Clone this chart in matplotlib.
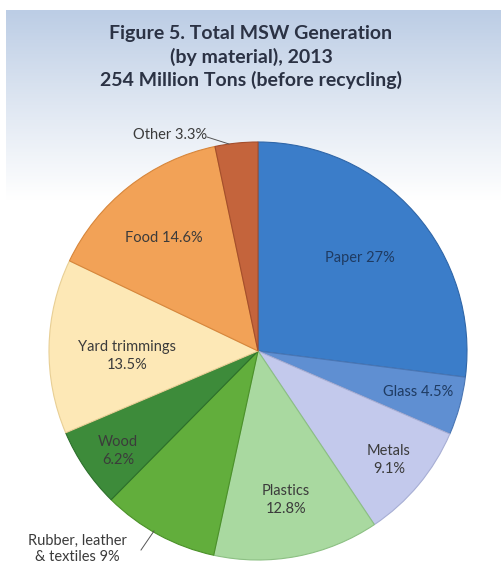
import numpy as np
import matplotlib
matplotlib.use("Agg")
import matplotlib.pyplot as plt
from matplotlib.colors import LinearSegmentedColormap

# ---- data ----
materials = ["Paper", "Glass", "Metals", "Plastics", "Rubber, leather\n& textiles", "Wood",
             "Yard trimmings", "Food", "Other"]
shares = [27.0, 4.5, 9.1, 12.8, 9.0, 6.2, 13.5, 14.6, 3.3]
label_texts = ["Paper 27%", "Glass 4.5%", "Metals\n9.1%", "Plastics\n12.8%",
               "Rubber, leather\n& textiles 9%", "Wood\n6.2%", "Yard trimmings\n13.5%",
               "Food 14.6%", "Other 3.3%"]
title_lines = ["Figure 5. Total MSW Generation", "(by material), 2013",
               "254 Million Tons (before recycling)"]

colors = ["#3b7dc9", "#5f8fd2", "#c3c9ec", "#a9d9a0", "#62ae3c", "#3d8b3a",
          "#fde8b6", "#f2a257", "#c4643c"]
edges = ["#2f66a8", "#4a76b4", "#a7aed4", "#8cc083", "#4b9129", "#2c6f2b",
         "#e8cf95", "#d7863b", "#a44e2c"]

W, H = 501, 563
fig = plt.figure(figsize=(W / 100, H / 100), dpi=100)
ax = fig.add_axes([0, 0, 1, 1])
ax.set_xlim(0, W)
ax.set_ylim(0, H)
ax.set_aspect("equal")
ax.axis("off")

def py(y):  # pixel-from-top to data y
    return H - y

# background gradient
grad = np.linspace(0, 1, 200).reshape(-1, 1)
cmap = LinearSegmentedColormap.from_list("bg", ["#bccde5", "#dfe7f2", "#ffffff"])
ax.imshow(grad, cmap=cmap, aspect="auto", extent=[6, W, py(200), py(10)], zorder=0)

cx, cy, R = 258, py(351), 209
wedges, _ = ax.pie(shares, colors=colors, startangle=90, counterclock=False,
                   center=(cx, cy), radius=R, frame=True,
                   wedgeprops=dict(linewidth=0.8))
for w, e in zip(wedges, edges):
    w.set_edgecolor(e)
    w.set_zorder(2)
ax.set_xlim(0, W)
ax.set_ylim(0, H)
ax.axis("off")

font = "Lato"
txtc = "#3b3b3b"
# in-slice label positions (pixels from top-left)
label_pos = {
    0: (360, 258), 1: (418, 392), 2: (389, 460), 3: (286, 500),
    5: (118, 451), 6: (127, 356), 7: (164, 238),
}
for i, (x, y) in label_pos.items():
    c = "#1f3b62" if i in (0, 1) else txtc
    ax.text(x, py(y), label_texts[i], ha="center", va="center", fontsize=10.5,
            family=font, color=c, linespacing=1.3, zorder=5)

# outside labels with leader lines
ax.text(170, py(135), label_texts[8], ha="center", va="center", fontsize=10.5,
        family=font, color=txtc, zorder=5)
ax.plot([207, 229], [py(137), py(144)], color="#555555", lw=0.7, zorder=5)
ax.text(77, py(549), label_texts[4], ha="center", va="center", fontsize=10.5,
        family=font, color=txtc, linespacing=1.15, zorder=5)
ax.plot([141, 154], [py(550), py(531)], color="#555555", lw=0.7, zorder=5)

for line, y in zip(title_lines, [33, 57, 80]):
    ax.text(251, py(y), line, ha="center", va="center", fontsize=14,
            fontweight="bold", family=font, color="#2b3244", zorder=5)

fig.savefig("out.png", dpi=100)
